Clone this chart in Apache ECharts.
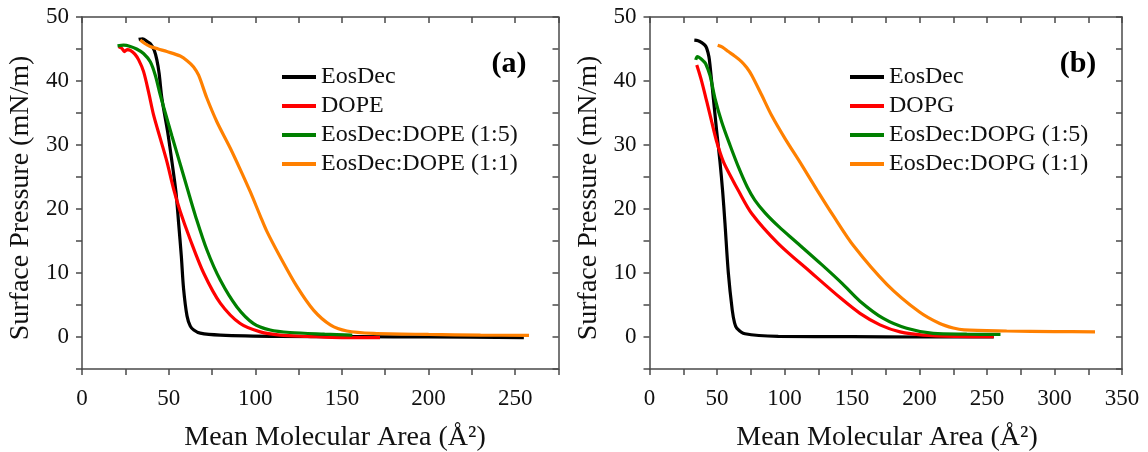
<!DOCTYPE html>
<html><head><meta charset="utf-8">
<script src="https://cdn.jsdelivr.net/npm/echarts@6/dist/echarts.min.js"></script>
<style>html,body{margin:0;padding:0;background:#fff}#c{width:1148px;height:452px}</style>
</head><body><div id="c"></div>
<script>
// ---------- Panel (a) data: [Mean Molecular Area (Å²), Surface Pressure (mN/m)] ----------
const namesA = ['EosDec', 'DOPE', 'EosDec:DOPE (1:5)', 'EosDec:DOPE (1:1)'];
const eosDecA = [[32.7,46.5],[35,46.6],[37.5,46.2],[39.5,45.8],[41.7,44.8],[43.2,43.3],[44.5,41.2],[46.1,37.3],[49.4,32.1],[51.9,27.4],[54.2,22.7],[55.7,18.0],[57.3,12.7],[58.6,7.6],[60.6,3.3],[62.5,1.7],[64.5,1.1],[68.2,0.6],[79.8,0.3],[114,0.1],[160,0.05],[200,0],[255,-0.1]];
const dopeA = [[21.1,45.4],[23,45.1],[24.5,44.6],[26,44.9],[27.9,44.8],[30.5,44.2],[32.7,43.3],[35.5,41.5],[38.4,38.3],[41.3,34.7],[45.2,31],[49,27.4],[52.8,23.2],[56.7,19.6],[62.5,15.2],[70.2,10],[79.8,5.3],[91.3,2.1],[102.9,0.8],[114.4,0.3],[130,0.1],[150,-0.1],[172,-0.1]];
const mix15A = [[20.5,45.5],[24,45.6],[27.9,45.4],[31.5,45.0],[35.5,44.3],[39.4,43],[42.3,40.9],[45.2,37.8],[48.1,35.0],[51.9,31.4],[56.7,27.0],[61,23],[65.4,19.0],[72.1,13.6],[79.8,8.9],[89.4,4.7],[99,2.1],[108.6,1.1],[120,0.7],[140,0.45],[156,0.3]];
const mix11A = [[33.6,46.4],[36,45.9],[39.4,45.4],[44,45.0],[49,44.6],[56.7,43.9],[61,43.1],[64.4,42.2],[67.3,40.9],[72.1,37.3],[77.9,33.6],[85.6,29.5],[91.3,26.2],[97.1,22.7],[102.9,18.9],[106.7,16.5],[114.4,12.5],[124,7.9],[133.6,4.2],[143.3,1.9],[152.9,0.94],[168.2,0.57],[200,0.4],[230,0.3],[258,0.25]];

// ---------- Panel (b) data ----------
const namesB = ['EosDec', 'DOPG', 'EosDec:DOPG (1:5)', 'EosDec:DOPG (1:1)'];
const eosDecB = [[33.2,46.4],[36,46.3],[38.7,46.0],[41,45.6],[42.4,45.1],[44,43.8],[44.8,42.5],[47.3,37.3],[49.8,32.1],[52.2,27.4],[54.2,22.7],[55.9,17.8],[58.4,10],[61.3,4.2],[63,2.2],[64.6,1.4],[70.7,0.5],[95.4,0.1],[150,0.05],[200,0],[255,0]];
const dopgB = [[35,42.5],[36.5,41.5],[38.7,39.9],[42.4,36.8],[46.1,33.6],[49.8,30.5],[54.7,27.4],[60.9,24.8],[65.5,23],[75.7,19.3],[95.4,14.6],[120.1,10],[142,6],[155.9,3.7],[170.7,1.9],[185.6,0.8],[202.8,0.3],[227.6,0.1],[255,0.05]];
const mix15B = [[34.2,43.3],[35.5,43.8],[37.4,43.6],[40,43.1],[41.6,42.7],[44.8,40.9],[48.5,37.3],[53.5,33.6],[59.6,30],[66,26.5],[72.5,23.4],[78,21.4],[85.6,19.4],[96,17.2],[107.8,15.0],[127.6,11.3],[143,8.3],[155.9,5.6],[173.2,2.9],[190.5,1.36],[210.2,0.57],[235,0.45],[260,0.4]];
const mix11B = [[50.5,45.6],[54,45.3],[58.4,44.6],[63,43.9],[68.3,43],[72,42.1],[75.7,40.9],[83.1,37.8],[90.5,34.6],[100.4,31],[112.7,26.9],[124,23],[136,19],[151,14.3],[176,8.2],[200,3.9],[215,2.1],[225,1.4],[233,1.1],[264.6,0.94],[300,0.85],[330,0.8]];

const xMaxA = 275, xMaxB = 350, yMin = -5, yMax = 50;

const colors = ['#000000', '#ff0000', '#008000', '#ff8000'];
const FONT = "'Liberation Serif', 'Times New Roman', serif";
const AX = '#4a4a4a';

function xAxisBottom(gi, max) {
  return { type: 'value', gridIndex: gi, position: 'bottom', min: 0, max: max, interval: 25,
    axisLine: { show: true, onZero: false, lineStyle: { color: AX, width: 1.5 } },
    axisTick: { show: true, length: 6, lineStyle: { color: AX, width: 1.5 } },
    axisLabel: { margin: 18, fontFamily: FONT, fontSize: 23, color: '#111',
      formatter: v => (v % 50 === 0 ? String(v) : '') },
    splitLine: { show: false } };
}
function xAxisTop(gi, max) {
  return { type: 'value', gridIndex: gi, position: 'top', min: 0, max: max, interval: 25,
    axisLine: { show: true, onZero: false, lineStyle: { color: AX, width: 1.5 } },
    axisTick: { show: true, inside: true, length: 6, lineStyle: { color: AX, width: 1.5 } },
    axisLabel: { show: false }, splitLine: { show: false } };
}
function yAxisLeft(gi) {
  return { type: 'value', gridIndex: gi, position: 'left', min: yMin, max: yMax, interval: 5,
    axisLine: { show: true, onZero: false, lineStyle: { color: AX, width: 1.5 } },
    axisTick: { show: true, length: 6, lineStyle: { color: AX, width: 1.5 } },
    axisLabel: { margin: 13, fontFamily: FONT, fontSize: 23, color: '#111',
      formatter: v => (v % 10 === 0 ? String(v) : '') },
    splitLine: { show: false } };
}
function yAxisRight(gi) {
  return { type: 'value', gridIndex: gi, position: 'right', min: yMin, max: yMax, interval: 5,
    axisLine: { show: true, onZero: false, lineStyle: { color: AX, width: 1.5 } },
    axisTick: { show: true, inside: true, length: 6, lineStyle: { color: AX, width: 1.5 } },
    axisLabel: { show: false }, splitLine: { show: false } };
}
function line(name, data, color, xi, yi) {
  return { type: 'line', name: name, data: data, xAxisIndex: xi, yAxisIndex: yi,
    showSymbol: false, symbol: 'none', smooth: 0.3,
    lineStyle: { color: color, width: 3.2 }, itemStyle: { color: color }, animation: false };
}
function legend(names, left) {
  return { data: names, orient: 'vertical', left: left, top: 64, padding: 0, icon: 'rect',
    itemWidth: 34, itemHeight: 4, itemGap: 3,
    textStyle: { fontFamily: FONT, fontSize: 24, color: '#111', lineHeight: 26 } };
}

const chart = echarts.init(document.getElementById('c'), null, { renderer: 'canvas' });
chart.setOption({
  backgroundColor: '#fff',
  animation: false,
  grid: [
    { left: 82, top: 17, width: 476.5, height: 352 },
    { left: 649.5, top: 17, width: 472.5, height: 352 }
  ],
  xAxis: [xAxisBottom(0, xMaxA), xAxisTop(0, xMaxA), xAxisBottom(1, xMaxB), xAxisTop(1, xMaxB)],
  yAxis: [yAxisLeft(0), yAxisRight(0), yAxisLeft(1), yAxisRight(1)],
  legend: [legend(namesA, 282), legend(namesB, 850)],
  series: [
    line(namesA[0], eosDecA, colors[0], 0, 0),
    line(namesA[1], dopeA, colors[1], 0, 0),
    line(namesA[2], mix15A, colors[2], 0, 0),
    line(namesA[3], mix11A, colors[3], 0, 0),
    line(namesB[0], eosDecB, colors[0], 2, 2),
    line(namesB[1], dopgB, colors[1], 2, 2),
    line(namesB[2], mix15B, colors[2], 2, 2),
    line(namesB[3], mix11B, colors[3], 2, 2)
  ],
  graphic: [
    { type: 'text', x: 509, y: 64, style: { text: '(a)', font: 'bold 30px ' + FONT, fill: '#000', align: 'center', verticalAlign: 'middle' } },
    { type: 'text', x: 1078, y: 64, style: { text: '(b)', font: 'bold 30px ' + FONT, fill: '#000', align: 'center', verticalAlign: 'middle' } },
    { type: 'text', x: 335, y: 438, style: { text: 'Mean Molecular Area (Å²)', font: '28px ' + FONT, fill: '#111', align: 'center', verticalAlign: 'middle' } },
    { type: 'text', x: 887, y: 438, style: { text: 'Mean Molecular Area (Å²)', font: '28px ' + FONT, fill: '#111', align: 'center', verticalAlign: 'middle' } },
    { type: 'text', x: 21, y: 198, rotation: Math.PI / 2, style: { text: 'Surface Pressure (mN/m)', font: '28px ' + FONT, fill: '#111', align: 'center', verticalAlign: 'middle' } },
    { type: 'text', x: 589, y: 198, rotation: Math.PI / 2, style: { text: 'Surface Pressure (mN/m)', font: '28px ' + FONT, fill: '#111', align: 'center', verticalAlign: 'middle' } }
  ]
});
</script>
</body></html>
